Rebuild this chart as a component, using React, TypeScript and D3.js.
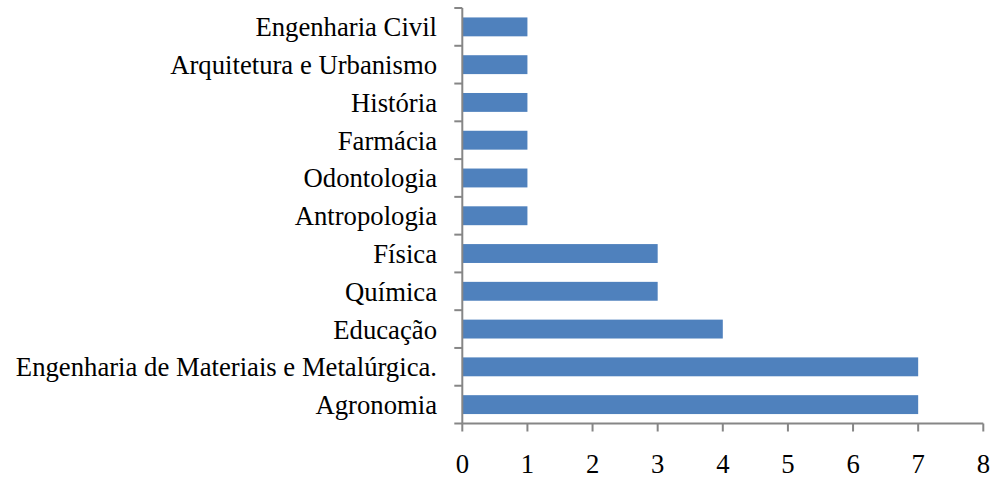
import React from "react";
import * as d3 from "d3";

const categories = [
  "Engenharia Civil",
  "Arquitetura e Urbanismo",
  "História",
  "Farmácia",
  "Odontologia",
  "Antropologia",
  "Física",
  "Química",
  "Educação",
  "Engenharia de Materiais e Metalúrgica.",
  "Agronomia",
];
const values = [1, 1, 1, 1, 1, 1, 3, 3, 4, 7, 7];
const xTicks = [0, 1, 2, 3, 4, 5, 6, 7, 8];

const W = 991;
const H = 478;
const left = 462.3;
const right = 983.3;
const top = 8;
const bottom = 423.5;
const font = "Liberation Serif, Times New Roman, DejaVu Serif, serif";
const fs = 26.7;

export default function App() {
  const x = d3.scaleLinear().domain([0, 8]).range([left, right]);
  const y = d3.scaleBand<string>().domain(categories).range([top, bottom]).paddingInner(0.5).paddingOuter(0.25);
  const yBoundaries = d3.range(categories.length + 1).map((i) => top + (i * (bottom - top)) / categories.length);
  const axisColor = "#868686";
  const textStyle = { fontFamily: font, fontSize: `${fs}px` };
  return (
    <svg width={W} height={H} style={{ position: "absolute", left: 0, top: 0 }}>
      <rect width={W} height={H} fill="#fff" />
      {categories.map((c, i) => (
        <rect key={c} x={x(0)} y={y(c)!} width={x(values[i]) - x(0)} height={y.bandwidth()} fill="#4f81bd" />
      ))}
      <line x1={left} x2={left} y1={top} y2={bottom} stroke={axisColor} strokeWidth={2} />
      {yBoundaries.map((b, i) => (
        <line key={i} x1={left - 8} x2={left} y1={b} y2={b} stroke={axisColor} strokeWidth={2} />
      ))}
      <line x1={left} x2={right} y1={bottom} y2={bottom} stroke={axisColor} strokeWidth={2} />
      {xTicks.map((t) => (
        <g key={t}>
          <line x1={x(t)} x2={x(t)} y1={bottom} y2={bottom + 8} stroke={axisColor} strokeWidth={2} />
          <text x={x(t)} y={473} textAnchor="middle" style={textStyle} fill="#000">
            {t}
          </text>
        </g>
      ))}
      {categories.map((c) => (
        <text key={c} x={437} y={y(c)! + y.bandwidth() / 2 + 9.5} textAnchor="end" style={textStyle} fill="#000">
          {c}
        </text>
      ))}
    </svg>
  );
}
